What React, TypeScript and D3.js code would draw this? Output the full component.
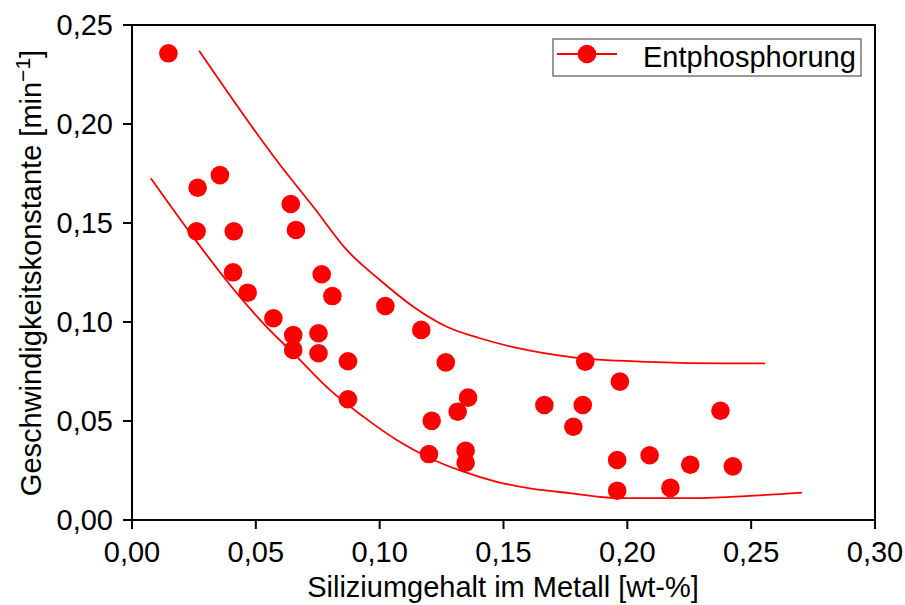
import React from "react";
import * as d3 from "d3";

const siContent = [0.0147, 0.0265, 0.0355, 0.0261, 0.0411, 0.0408, 0.0467, 0.0571, 0.0641, 0.0662, 0.0651, 0.0651, 0.0766, 0.0753, 0.0753, 0.0809, 0.0872, 0.0872, 0.1023, 0.1168, 0.1267, 0.121, 0.1199, 0.1315, 0.1357, 0.1347, 0.1347, 0.1665, 0.183, 0.182, 0.1782, 0.197, 0.1959, 0.1959, 0.209, 0.2174, 0.2254, 0.2376, 0.2426];
const rateConst = [0.2357, 0.1678, 0.1742, 0.1458, 0.1458, 0.1251, 0.1148, 0.1019, 0.1596, 0.1465, 0.0934, 0.0859, 0.1241, 0.0943, 0.0842, 0.1131, 0.0802, 0.061, 0.1081, 0.096, 0.0796, 0.0501, 0.0333, 0.0547, 0.0618, 0.035, 0.0289, 0.0581, 0.08, 0.0581, 0.0471, 0.0699, 0.0303, 0.0148, 0.0327, 0.0162, 0.0279, 0.0552, 0.0271];

const upperX = [0.0271, 0.0598, 0.0732, 0.0867, 0.1001, 0.1136, 0.1271, 0.1405, 0.1554, 0.1773, 0.2087, 0.2398, 0.2556];
const upperY = [0.237, 0.1793, 0.1582, 0.1364, 0.1212, 0.1077, 0.0976, 0.0918, 0.0869, 0.0823, 0.0799, 0.0791, 0.0791];
const lowerX = [0.0076, 0.0261, 0.0396, 0.053, 0.0665, 0.0799, 0.0934, 0.1069, 0.1203, 0.1338, 0.1473, 0.1607, 0.1773, 0.1977, 0.2243, 0.2478, 0.2705];
const lowerY = [0.1726, 0.1406, 0.1187, 0.0993, 0.0825, 0.0657, 0.0522, 0.0404, 0.0312, 0.0244, 0.0193, 0.016, 0.0135, 0.011, 0.011, 0.0121, 0.0138];

const xTicks = [0, 0.05, 0.1, 0.15, 0.2, 0.25, 0.3];
const yTicks = [0, 0.05, 0.1, 0.15, 0.2, 0.25];

const seriesName = "Entphosphorung";
const xLabel = "Siliziumgehalt im Metall [wt-%]";
const yLabel = "Geschwindigkeitskonstante [min";

const RED = "#ff0000";
const FONT = "'Liberation Sans', Arial, Helvetica, sans-serif";

export default function App() {
  const W = 905, H = 605;
  const left = 132, right = 875, top = 25, bottom = 520;
  const x = d3.scaleLinear().domain([0, 0.3]).range([left, right]);
  const y = d3.scaleLinear().domain([0, 0.25]).range([bottom, top]);
  const fmt = (v: number) => d3.format(".2f")(v).replace(".", ",");

  const line = d3
    .line<[number, number]>()
    .x((d) => x(d[0]))
    .y((d) => y(d[1]))
    .curve(d3.curveMonotoneX);
  const upper = line(upperX.map((v, i) => [v, upperY[i]] as [number, number])) || "";
  const lower = line(lowerX.map((v, i) => [v, lowerY[i]] as [number, number])) || "";

  const tick = 9;
  const fs = 29;
  return (
    <svg
      width={W}
      height={H}
      style={{ position: "absolute", left: 0, top: 0, background: "#fff" }}
      fontFamily={FONT}
    >
      <rect x={0} y={0} width={W} height={H} fill="#fff" />
      <path d={upper} fill="none" stroke={RED} strokeWidth={1.8} />
      <path d={lower} fill="none" stroke={RED} strokeWidth={1.8} />
      {siContent.map((v, i) => (
        <circle key={i} cx={x(v)} cy={y(rateConst[i])} r={9.3} fill={RED} />
      ))}
      <rect x={left} y={top} width={right - left} height={bottom - top} fill="none" stroke="#000" strokeWidth={2} />
      {xTicks.map((t) => (
        <g key={"x" + t}>
          <line x1={x(t)} x2={x(t)} y1={bottom} y2={bottom + tick} stroke="#000" strokeWidth={2} />
          <text x={x(t)} y={562} textAnchor="middle" fontSize={fs}>
            {fmt(t)}
          </text>
        </g>
      ))}
      {yTicks.map((t) => (
        <g key={"y" + t}>
          <line x1={left - tick} x2={left} y1={y(t)} y2={y(t)} stroke="#000" strokeWidth={2} />
          <text x={113} y={y(t) + 10.3} textAnchor="end" fontSize={fs}>
            {fmt(t)}
          </text>
        </g>
      ))}
      <text x={503} y={597} textAnchor="middle" fontSize={fs}>
        {xLabel}
      </text>
      <text transform="translate(41,273) rotate(-90)" textAnchor="middle" fontSize={fs}>
        {yLabel}
        <tspan fontSize={21} dy={-11}>−1</tspan>
        <tspan dy={11}>]</tspan>
      </text>
      <g>
        <rect x={553} y={39} width={308} height={37} fill="#fff" stroke="#555" strokeWidth={1.2} />
        <line x1={557} x2={617} y1={54} y2={54} stroke={RED} strokeWidth={1.8} />
        <circle cx={587} cy={54} r={9.3} fill={RED} />
        <text x={643} y={66.5} fontSize={fs}>
          {seriesName}
        </text>
      </g>
    </svg>
  );
}
